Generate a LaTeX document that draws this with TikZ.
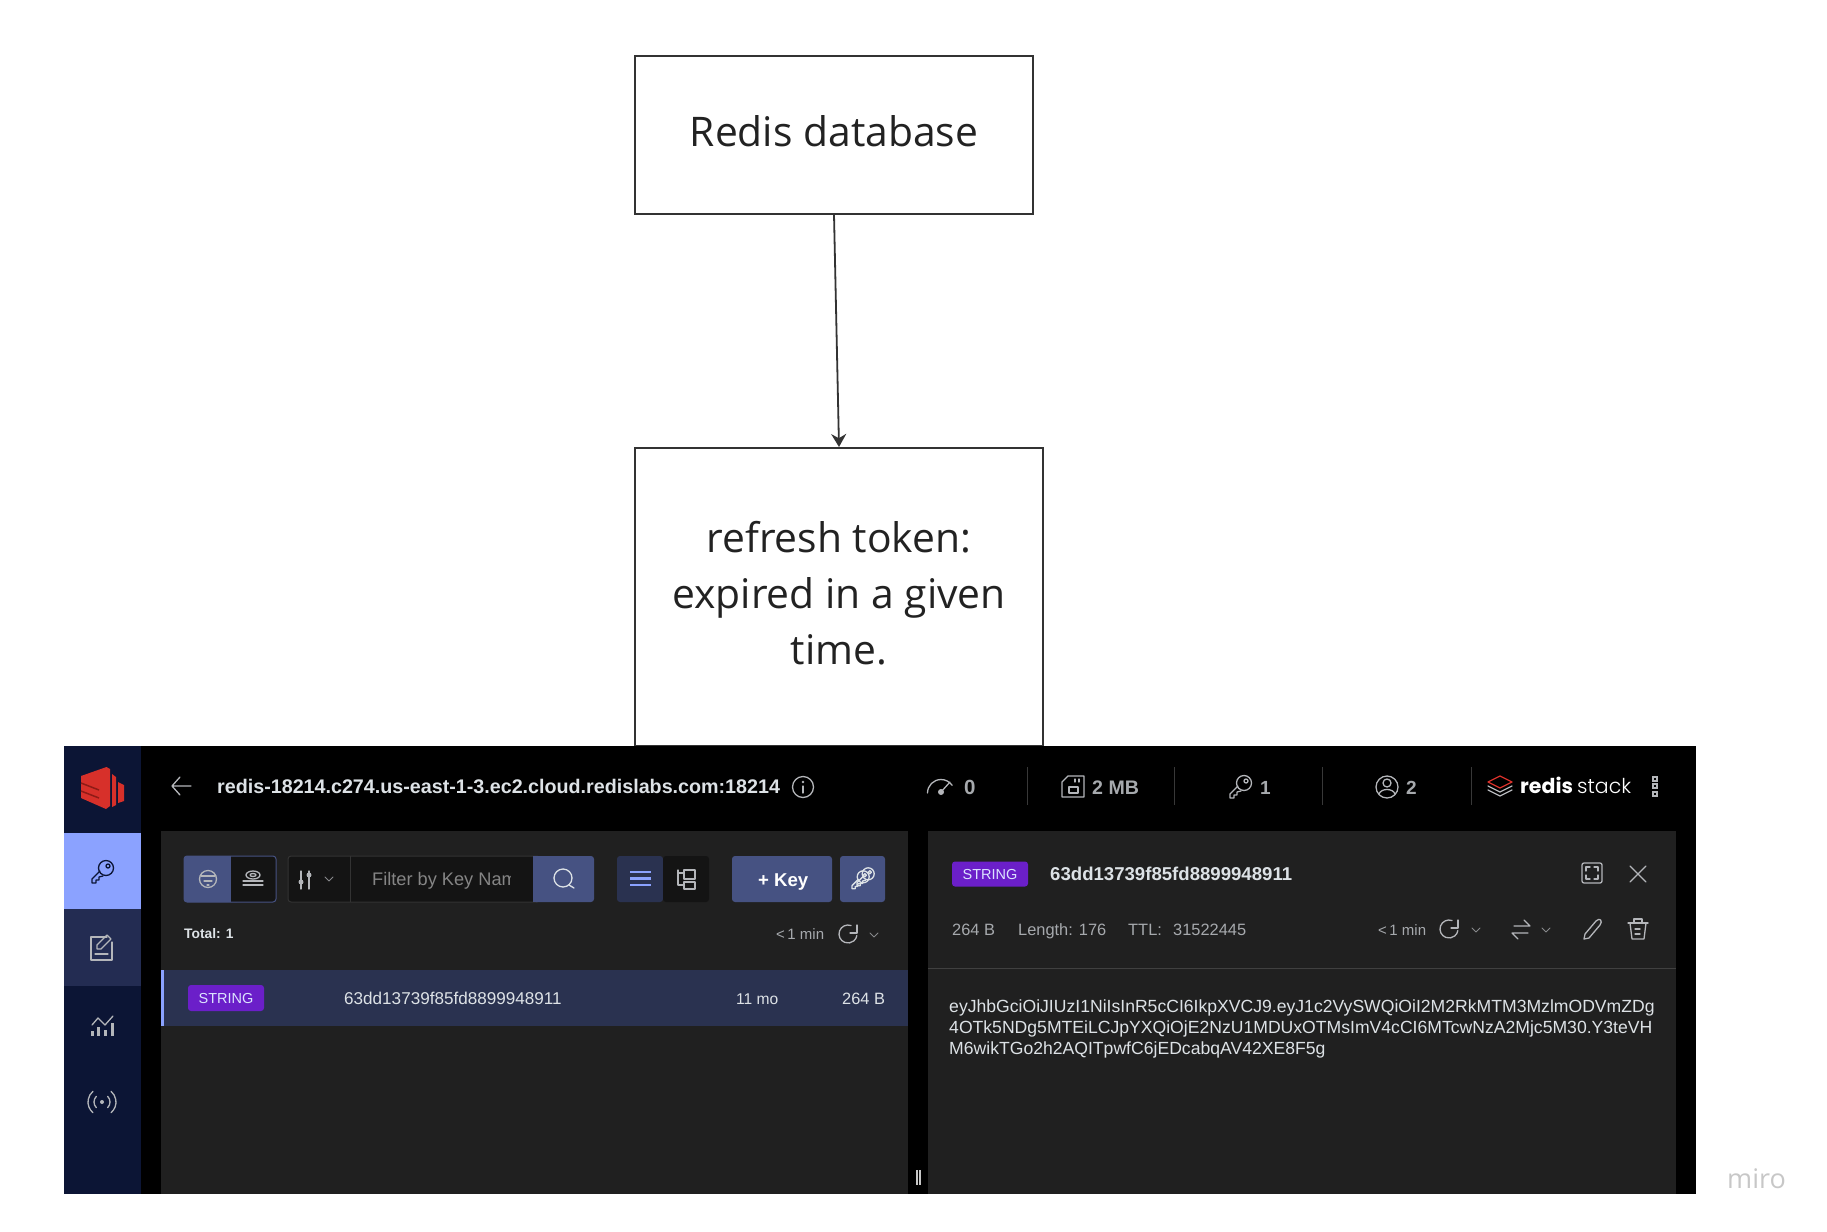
\documentclass[tikz,border=0pt]{standalone}
\usepackage{fontspec}
\setmainfont{Open Sans}
\newfontfamily\uifont{Liberation Sans}
\newfontfamily\logofont{Poppins}
\newfontfamily\logolight{Poppins Light}
\usetikzlibrary{arrows.meta}
\definecolor{boxline}{HTML}{333333}
\definecolor{boxtext}{HTML}{222222}
\definecolor{navy}{HTML}{0C1535}
\definecolor{navymid}{HTML}{232C52}
\definecolor{keyblue}{HTML}{8BA2FF}
\definecolor{panel}{HTML}{202020}
\definecolor{btnblue}{HTML}{465282}
\definecolor{rowblue}{HTML}{2A3250}
\definecolor{tagpurple}{HTML}{6B1FC9}
\definecolor{txtlight}{HTML}{DDE2E6}
\definecolor{txtgray}{HTML}{A6A9AD}
\definecolor{icongray}{HTML}{B4B6BA}
\definecolor{redisred}{HTML}{D7302A}
\definecolor{reddark}{HTML}{8F1B16}
\tikzset{
	box/.style 2 args={draw=boxline,line width=2,inner sep=0,minimum width=#1pt,minimum height=#2pt,align=center,text=boxtext,font=\fontsize{40.8}{56}\selectfont},
	ui/.style 2 args={inner sep=0,anchor=base west,text=#2,font=\uifont\fontsize{#1}{#1}\selectfont},
	uib/.style 2 args={inner sep=0,anchor=base west,text=#2,font=\uifont\bfseries\fontsize{#1}{#1}\selectfont},
	tag/.style={fill=tagpurple,rounded corners=3,inner sep=0,text=keyblue!30!white,font=\uifont\fontsize{14.5}{15}\selectfont},
	ico/.style={draw=#1,line width=1.3,line cap=round,line join=round},
	ico/.default=icongray,
	thinchev/.style={draw=icongray!75!black,line width=1,line cap=round,line join=round},
	keyglyph/.pic={
		\draw[pic actions] (-2,-1) -- (-10,7) -- (-10,11) -- (-6,11) -- (-6,8) -- (-3,8) -- (-3,5) -- (1,4);
		\draw[pic actions] (4,-4) circle (7.5);
		\draw[pic actions] (6,-6) circle (2);
	},
	refreshglyph/.pic={
		\draw[pic actions] (0,0) ++(-70:9) arc[start angle=-70,end angle=-350,radius=9];
		\draw[pic actions] (9,-9) -- (9,-1) -- (2,-1);
	},
	chevglyph/.pic={
		\draw[pic actions] (-4,-2) -- (0,2) -- (4,-2);
	}
}
\begin{document}
\begin{tikzpicture}[x=1pt,y=-1pt]
	\useasboundingbox (0,0) rectangle (1827,1231);
	\node (db) [box={398}{157}] at (834,135) {Redis database\rule[-9pt]{0pt}{0pt}};
	\node (token) [box={408}{298}] at (839,597) {refresh token:\\expired in a given\\time.\rule[-9pt]{0pt}{0pt}};
	\draw [boxline,line width=1.8,-{Stealth[length=13,width=15]}] (db.south) -- (token.north);

	\fill [black] (64,746) rectangle (1696,1194);
	\fill [navy] (64,746) rectangle (141,1194);
	\fill [keyblue] (64,833) rectangle (141,909);
	\fill [navymid] (64,909) rectangle (141,986);
	\fill [panel] (161,831) rectangle (908,1194);
	\fill [panel] (928,831) rectangle (1676,1194);

	\fill [redisred] (81,776) -- (106.5,767) -- (110,769) -- (110,806) -- (106,809) -- (81,798) -- cycle;
	\fill [redisred] (112,774) -- (116,777) -- (116,805) -- (112,807) -- cycle;
	\fill [redisred] (118,782) -- (124,785) -- (124,801) -- (118,803) -- cycle;
	\draw [reddark,line width=1.5] (81,783) -- (99,790);
	\draw [reddark,line width=1.5] (81,791) -- (99,798);

	\pic [ico=navy] at (102,872) {keyglyph};
	\draw [ico] (112,942) -- (112,960) -- (91,960) -- (91,937) -- (107,937);
	\draw [ico] (97,949) -- (97,945) -- (107,935) -- (111,939) -- (101,949) -- cycle;
	\draw [ico] (95,954) -- (108,954);
	\draw [ico] (92,1025) -- (98,1018) -- (105,1025) -- (113,1016);
	\foreach \barx/\bartop in {92/1031,98/1027,105/1030,112/1023}
		\draw [icongray,line width=3] (\barx,1036) -- (\barx,\bartop);
	\fill [icongray] (102,1102) circle (2);
	\draw [ico] (102,1102) ++(135:8) arc[start angle=135,end angle=225,radius=8];
	\draw [ico] (102,1102) ++(45:8) arc[start angle=45,end angle=-45,radius=8];
	\draw [ico] (102,1102) ++(130:14) arc[start angle=130,end angle=230,radius=14];
	\draw [ico] (102,1102) ++(50:14) arc[start angle=50,end angle=-50,radius=14];

	\draw [ico] (191,786) -- (172,786) (180,777) -- (172,786) -- (180,795);
	\node (host) [uib={19.7}{txtlight}] at (217,793) {redis-18214.c274.us-east-1-3.ec2.cloud.redislabs.com:18214};
	\draw [ico] (803,787) circle (10.5);
	\fill [icongray] (803,782) circle (1.3);
	\draw [ico] (803,786) -- (803,793);

	\draw [ico] (927.5,793) arc[start angle=180,end angle=325,radius=13.5];
	\fill [icongray] (941,792) circle (3);
	\draw [ico] (941,792) -- (950,782);
	\node (hits) [uib={20.5}{txtgray}] at (964,794) {0};
	\draw [ico] (1068,776) -- (1084,776) -- (1084,797) -- (1062,797) -- (1062,782) -- cycle;
	\draw [ico] (1069,787) rectangle (1078,793);
	\draw [ico] (1075,779) -- (1075,782) (1079,779) -- (1079,782);
	\node (mem) [uib={19.6}{txtgray}] at (1092,794) {2 MB};
	\pic [ico] at (1240,787) {keyglyph};
	\node (keys) [uib={19}{txtgray}] at (1260,794) {1};
	\draw [ico] (1387,787) circle (11);
	\draw [ico] (1387,783) circle (4);
	\draw [ico] (1379,794) .. controls (1381,788) and (1393,788) .. (1395,794);
	\node (users) [uib={19}{txtgray}] at (1406,794) {2};
	\foreach \sepx in {1027,1174,1322,1471}
		\draw [white!22!black,line width=1] (\sepx,767) -- (\sepx,805);
	\draw [redisred,line width=1.3,line join=round] (1488,782) -- (1500,776) -- (1512,782) -- (1500,788) -- cycle;
	\draw [ico] (1488,786) -- (1500,792) -- (1512,786);
	\draw [ico] (1488,790) -- (1500,796) -- (1512,790);
	\node (logoa) [inner sep=0,anchor=base west,text=white,font=\logofont\bfseries\fontsize{20.5}{22}\selectfont] at (1520,793) {redis};
	\node (logob) [inner sep=0,anchor=base west,text=white,font=\logolight\fontsize{20.5}{22}\selectfont] at (1577,793) {stack};
	\foreach \doty in {779,786,794}
		\draw [icongray,line width=1.2] (1653,\doty-2) rectangle (1657,\doty+2);

	\fill [btnblue,rounded corners=3] (184,856) rectangle (240,902);
	\fill [black!92!white,rounded corners=3] (225,856) rectangle (276,902);
	\fill [btnblue] (225,856) rectangle (231,902);
	\draw [btnblue,line width=1,rounded corners=3] (184,856) rectangle (276,902);
	\draw [ico] (208,879) circle (8.5);
	\draw [ico] (201,876) -- (215,876) (204,881) -- (212,881) (207,885) -- (209,885);
	\draw [ico] (253,875) ellipse (7 and 4);
	\draw [ico] (253,875) ellipse (3 and 1.5);
	\draw [ico] (243,881) -- (263,881) (243,885) -- (263,885);

	\fill [black!92!white,rounded corners=3] (288,856) rectangle (540,902);
	\draw [white!20!black,line width=1,rounded corners=3] (288,856) rectangle (540,902);
	\draw [white!20!black,line width=1] (350,856) -- (350,902);
	\draw [ico] (301,871) -- (301,889) (309,871) -- (309,889);
	\fill [icongray] (301,882) circle (2.5);
	\fill [icongray] (309,875) circle (2.5);
	\pic [thinchev] at (329,879) {chevglyph};
	\begin{scope}
		\clip (360,850) rectangle (510.5,910);
		\node (filter) [ui={18.2}{white!52!black}] at (372,885) {Filter by Key Name};
	\end{scope}
	\fill [btnblue,rounded corners=3] (533,856) rectangle (594,902);
	\fill [btnblue] (533,856) rectangle (540,902);
	\draw [ico=txtlight] (563,878) circle (9);
	\draw [ico=txtlight] (569,885) -- (574,888);

	\fill [rowblue,rounded corners=3] (617,856) rectangle (663,902);
	\fill [black!92!white,rounded corners=3] (663,856) rectangle (709,902);
	\foreach \barsy in {872,878.5,885}
		\draw [keyblue,line width=2.4] (630,\barsy) -- (651,\barsy);
	\draw [ico] (678,870) -- (678,885) -- (684,885);
	\draw [ico] (678,873) -- (684,873);
	\draw [ico] (684,870) rectangle (695,879);
	\draw [ico] (684,882) rectangle (695,889);
	\fill [btnblue,rounded corners=3] (732,856) rectangle (832,902);
	\node (addkey) [uib={18.6}{white}] at (758,886) {+ Key};
	\fill [btnblue,rounded corners=3] (840,856) rectangle (885,902);
	\pic [ico=txtlight,scale=0.8] at (860,880) {keyglyph};
	\pic [ico=txtlight,scale=0.8] at (865,877) {keyglyph};

	\node (total) [uib={13.8}{txtlight}] at (184,938) {Total: 1};
	\node (agea) [ui={15}{txtgray}] at (776,939) {<\,1 min};
	\pic [ico] at (848,934) {refreshglyph};
	\pic [thinchev] at (874,935) {chevglyph};

	\fill [rowblue] (161,970) rectangle (908,1026);
	\fill [keyblue] (161,970) rectangle (164,1026);
	\node (stra) [tag,minimum width=76pt,minimum height=26pt] at (226,998) {STRING};
	\node (keya) [ui={17.1}{txtlight}] at (344,1004) {63dd13739f85fd8899948911};
	\node (ttla) [ui={15.6}{txtlight}] at (736,1004) {11 mo};
	\node (sizea) [ui={16.4}{txtlight}] at (842,1004) {264 B};

	\draw [white!78!black,line width=1.2] (917,1170) -- (917,1185);
	\draw [white!78!black,line width=1.2] (920,1170) -- (920,1185);

	\node (strb) [tag,minimum width=76pt,minimum height=25pt] at (990,874) {STRING};
	\node (keyb) [uib={18.6}{txtlight}] at (1050,880) {63dd13739f85fd8899948911};
	\draw [ico,rounded corners=2] (1582,863) rectangle (1602,883);
	\draw [ico] (1586,871) -- (1586,867) -- (1590,867) (1594,867) -- (1598,867) -- (1598,871) (1598,875) -- (1598,879) -- (1594,879) (1590,879) -- (1586,879) -- (1586,875);
	\draw [ico] (1630,866) -- (1646,882) (1646,866) -- (1630,882);

	\node (sizeb) [ui={16.4}{txtgray}] at (952,935) {264 B};
	\node (lenb) [ui={16.4}{txtgray}] at (1018,935) {Length: 176};
	\node (ttlb) [ui={16.4}{txtgray}] at (1128,935) {TTL:};
	\node (ttlval) [ui={16.4}{txtgray}] at (1173,935) {31522445};
	\node (ageb) [ui={15}{txtgray}] at (1378,935) {<\,1 min};
	\pic [ico] at (1449,929) {refreshglyph};
	\pic [thinchev] at (1476,930) {chevglyph};
	\draw [ico] (1514,926) -- (1530,926) (1524,920) -- (1530,926) (1528,933) -- (1512,933) (1518,939) -- (1512,933);
	\pic [thinchev] at (1546,930) {chevglyph};
	\draw [ico] (1585,934) -- (1596,921) .. controls (1600,917) and (1603,921) .. (1600,925) -- (1589,938) -- (1584,939) -- cycle;
	\draw [ico] (1628,923) -- (1648,923) (1634,923) -- (1634,919) -- (1642,919) -- (1642,923);
	\draw [ico] (1630,923) -- (1632,939) -- (1644,939) -- (1646,923);
	\draw [ico] (1635,929) -- (1640,929) (1635,934) -- (1640,934);
	\draw [white!25!black,line width=1] (928,968) -- (1676,968);

	\node (tokenval) [anchor=west,inner sep=0,align=left,text=txtlight,font=\uifont\fontsize{17.6}{21}\selectfont] at (949,1029) {eyJhbGciOiJIUzI1NiIsInR5cCI6IkpXVCJ9.eyJ1c2VySWQiOiI2M2RkMTM3MzlmODVmZDg\\4OTk5NDg5MTEiLCJpYXQiOjE2NzU1MDUxOTMsImV4cCI6MTcwNzA2Mjc5M30.Y3teVH\\M6wikTGo2h2AQITpwfC6jEDcabqAV42XE8F5g};

	\node (miro) [inner sep=0,anchor=base west,text=black!22,font=\fontsize{27}{27}\selectfont] at (1727,1188) {miro};
\end{tikzpicture}
\end{document}
